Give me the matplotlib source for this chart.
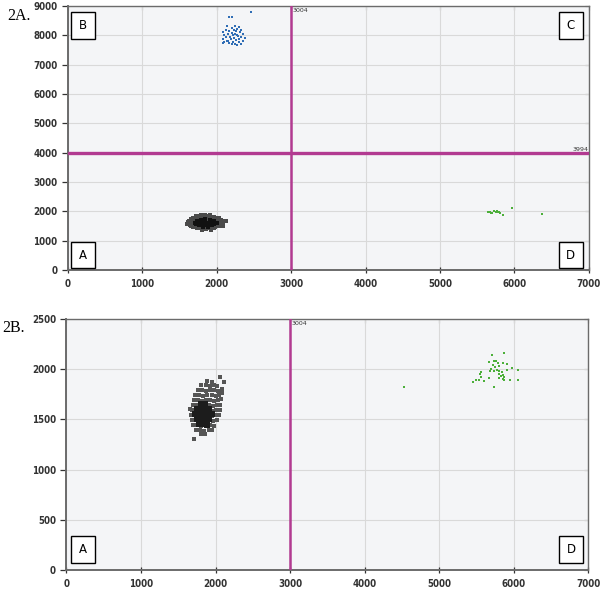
import numpy as np
import matplotlib
matplotlib.use("Agg")
import matplotlib.pyplot as plt
from matplotlib.patches import Rectangle

# ---- data ----
# Panel 2A
a_blue = [(2160, 8640), (2205, 8620), (2455, 8790),
          (2140, 8330), (2250, 8310), (2300, 8280), (2200, 8250), (2280, 8220),
          (2120, 8200), (2230, 8190), (2330, 8200), (2170, 8150), (2260, 8140),
          (2090, 8120), (2310, 8110), (2200, 8080), (2150, 8050), (2250, 8060),
          (2350, 8050), (2100, 8010), (2220, 8000), (2290, 7990), (2180, 7960),
          (2330, 7950), (2120, 7930), (2240, 7910), (2080, 7880), (2300, 7880),
          (2190, 7860), (2260, 7840), (2140, 7820), (2360, 7820), (2220, 7790),
          (2100, 7770), (2300, 7760), (2170, 7740), (2250, 7720), (2080, 7740),
          (2330, 7700), (2200, 7690), (2280, 7680), (2150, 7800), (2380, 7900),
          (2270, 8020)]
a_green = [(5640, 1970), (5670, 1990), (5700, 1960), (5720, 2000), (5745, 1980),
           (5770, 1990), (5790, 1970), (5810, 1950), (5850, 1880), (5960, 2100),
           (6370, 1900), (5680, 1950), (5760, 2010)]
a_black_outer = [(1790, 1880), (1850, 1890), (1910, 1875),
                 (1720, 1830), (1780, 1835), (1840, 1825), (1900, 1840), (1960, 1820),
                 (1680, 1780), (1740, 1785), (1800, 1775), (1860, 1790), (1920, 1780), (1980, 1770), (2030, 1785),
                 (1650, 1730), (1710, 1735), (1770, 1725), (1830, 1730), (1890, 1740), (1950, 1725), (2010, 1730), (2060, 1720),
                 (1630, 1680), (1690, 1685), (1750, 1675), (1810, 1680), (1870, 1690), (1930, 1675), (1990, 1685), (2050, 1680), (2100, 1670),
                 (1615, 1630), (1675, 1625), (1735, 1635), (1795, 1630), (1855, 1620), (1915, 1635), (1975, 1630), (2035, 1625), (2090, 1640),
                 (1620, 1580), (1680, 1585), (1740, 1575), (1800, 1580), (1860, 1590), (1920, 1575), (1980, 1580), (2040, 1585), (2085, 1575),
                 (1640, 1530), (1700, 1535), (1760, 1525), (1820, 1530), (1880, 1540), (1940, 1525), (2000, 1530), (2050, 1535),
                 (1680, 1480), (1740, 1485), (1800, 1475), (1860, 1480), (1920, 1490), (1980, 1475), (2030, 1485),
                 (1730, 1430), (1790, 1435), (1850, 1425), (1910, 1430), (1970, 1440),
                 (1800, 1380), (1860, 1385), (1920, 1375),
                 (1600, 1560), (2120, 1660), (1660, 1500), (2080, 1500)]
a_black_core = [(1790, 1720), (1850, 1725), (1910, 1715),
                (1730, 1670), (1790, 1675), (1850, 1665), (1910, 1670), (1970, 1675),
                (1710, 1620), (1770, 1625), (1830, 1615), (1890, 1620), (1950, 1625), (2000, 1615),
                (1720, 1570), (1780, 1575), (1840, 1565), (1900, 1570), (1960, 1575),
                (1770, 1520), (1830, 1525), (1890, 1515), (1940, 1520),
                (1820, 1470), (1880, 1475)]

# Panel 2B
b_green = [(4530, 1820),
           (5700, 2138), (5870, 2161), (5660, 2072), (5727, 2082), (5759, 2078),
           (5781, 2065), (5848, 2058), (5910, 2055), (5714, 2042), (5794, 2035),
           (5973, 2015), (6058, 1992), (5692, 2002), (5736, 1985), (5768, 1992),
           (5803, 1979), (5839, 1972), (5906, 1989), (5558, 1969), (5545, 1952),
           (5674, 1982), (5803, 1952), (5826, 1936), (5857, 1942), (5870, 1919),
           (5558, 1926), (5535, 1896), (5491, 1889), (5446, 1873), (5593, 1883),
           (5669, 1909), (5803, 1909), (5861, 1892), (5946, 1889), (6053, 1889),
           (5727, 1820), (5848, 1906), (5750, 2025)]
b_black_outer = [(1890, 1880), (1950, 1870),
                 (1810, 1840), (1865, 1845), (1920, 1835), (1975, 1840), (2020, 1830),
                 (1760, 1790), (1815, 1795), (1870, 1785), (1925, 1790), (1980, 1795), (2035, 1785),
                 (1725, 1740), (1780, 1745), (1835, 1735), (1890, 1740), (1945, 1745), (2000, 1735), (2050, 1740),
                 (1705, 1690), (1760, 1695), (1815, 1685), (1870, 1690), (1925, 1695), (1980, 1685), (2035, 1690), (2070, 1700),
                 (1690, 1640), (1745, 1645), (1800, 1635), (1855, 1640), (1910, 1645), (1965, 1635), (2020, 1640), (2065, 1645),
                 (1680, 1590), (1735, 1595), (1790, 1585), (1845, 1590), (1900, 1595), (1955, 1585), (2010, 1590), (2060, 1595),
                 (1675, 1540), (1730, 1545), (1785, 1535), (1840, 1540), (1895, 1545), (1950, 1535), (2005, 1540), (2050, 1545),
                 (1685, 1490), (1740, 1495), (1795, 1485), (1850, 1490), (1905, 1495), (1960, 1485), (2015, 1490),
                 (1700, 1440), (1755, 1445), (1810, 1435), (1865, 1440), (1920, 1445), (1975, 1435),
                 (1740, 1390), (1795, 1395), (1850, 1385), (1905, 1390), (1950, 1395),
                 (1800, 1350), (1860, 1355),
                 (2055, 1920), (2110, 1875), (1710, 1300), (2090, 1800), (2080, 1760), (1655, 1600)]
b_black_core = [(1800, 1650), (1860, 1655),
                (1750, 1600), (1805, 1605), (1860, 1595), (1915, 1600),
                (1730, 1550), (1785, 1555), (1840, 1545), (1895, 1550), (1950, 1555),
                (1745, 1500), (1800, 1505), (1855, 1495), (1910, 1500),
                (1780, 1450), (1835, 1455), (1890, 1445)]

x_ticks = [0, 1000, 2000, 3000, 4000, 5000, 6000, 7000]
a_y_ticks = [0, 1000, 2000, 3000, 4000, 5000, 6000, 7000, 8000, 9000]
b_y_ticks = [0, 500, 1000, 1500, 2000, 2500]
thr_x = 3004
thr_y = 3994

magenta = "#b23a91"
bg = "#f4f5f7"
grid_c = "#d9d9d9"


def xy(pts):
    arr = np.array(pts, dtype=float)
    return arr[:, 0], arr[:, 1]


def style_axes(ax, ymax, yticks):
    ax.set_facecolor(bg)
    ax.set_xlim(0, 7000)
    ax.set_ylim(0, ymax)
    ax.set_xticks(x_ticks)
    ax.set_yticks(yticks)
    ax.grid(True, color=grid_c, linewidth=0.8)
    ax.set_axisbelow(True)
    for s in ax.spines.values():
        s.set_color("#6b6b6b")
        s.set_linewidth(1.0)
    ax.spines["left"].set_linewidth(1.4)
    ax.spines["bottom"].set_linewidth(1.4)
    ax.tick_params(axis="both", labelsize=7, colors="#333333", width=0.9)
    ax.tick_params(axis="x", direction="inout", length=5, pad=4)
    ax.tick_params(axis="y", direction="out", length=4)
    for lab in ax.get_xticklabels() + ax.get_yticklabels():
        lab.set_fontweight("bold")
        lab.set_fontstretch("condensed")
    # short inward ticks on the top and right frame
    top = ax.secondary_xaxis("top")
    top.set_xticks(x_ticks)
    top.tick_params(direction="in", length=3, width=0.8, colors="#6b6b6b", labeltop=False)
    top.spines["top"].set_visible(False)
    right = ax.secondary_yaxis("right")
    right.set_yticks(yticks)
    right.tick_params(direction="in", length=3, width=0.8, colors="#6b6b6b", labelright=False)
    right.spines["right"].set_visible(False)


def quad_box(ax, x0, y0, w, h, text):
    ax.add_patch(Rectangle((x0, y0), w, h, transform=ax.transAxes,
                           facecolor="white", edgecolor="black", linewidth=1.0,
                           zorder=6))
    ax.text(x0 + w / 2, y0 + h / 2, text, transform=ax.transAxes,
            ha="center", va="center", fontsize=8.5, zorder=7)


fig = plt.figure(figsize=(6.0, 5.99), dpi=100)

# ---- 2A ----
ax1 = fig.add_axes([0.1128, 0.5492, 0.8688, 0.4407])
style_axes(ax1, 9000, a_y_ticks)
x, y = xy(a_black_outer)
ax1.scatter(x, y, s=6, marker="s", color="#4a4a4a", linewidths=0, zorder=3)
x, y = xy(a_black_core)
ax1.scatter(x, y, s=7, marker="s", color="#111111", linewidths=0, zorder=4)
x, y = xy(a_blue)
ax1.scatter(x, y, s=4.5, marker="s", color="#2f6db5", linewidths=0, zorder=3)
x, y = xy(a_green)
ax1.scatter(x, y, s=3.5, marker="s", color="#4caf3a", linewidths=0, zorder=3)
ax1.axvline(thr_x, color=magenta, linewidth=1.8, zorder=5)
ax1.axhline(thr_y, color=magenta, linewidth=2.4, zorder=5)
ax1.text(thr_x + 20, 8950, str(thr_x), fontsize=4.5, ha="left", va="top", color="#333333")
ax1.text(6990, thr_y + 40, str(thr_y), fontsize=4.5, ha="right", va="bottom", color="#333333")
quad_box(ax1, 0.0063, 0.875, 0.046, 0.102, "B")
quad_box(ax1, 0.9424, 0.875, 0.046, 0.102, "C")
quad_box(ax1, 0.0063, 0.0076, 0.046, 0.098, "A")
quad_box(ax1, 0.9424, 0.0076, 0.046, 0.098, "D")

# ---- 2B ----
ax2 = fig.add_axes([0.1108, 0.0484, 0.870, 0.419])
style_axes(ax2, 2500, b_y_ticks)
x, y = xy(b_black_outer)
ax2.scatter(x, y, s=10, marker="s", color="#555555", linewidths=0, zorder=3)
x, y = xy(b_black_core)
ax2.scatter(x, y, s=13, marker="s", color="#1c1c1c", linewidths=0, zorder=4)
x, y = xy(b_green)
ax2.scatter(x, y, s=3.5, marker="s", color="#4caf3a", linewidths=0, zorder=3)
ax2.axvline(thr_x, color=magenta, linewidth=1.8, zorder=5)
ax2.text(thr_x + 20, 2480, str(thr_x), fontsize=4.5, ha="left", va="top", color="#333333")
quad_box(ax2, 0.0086, 0.028, 0.046, 0.107, "A")
quad_box(ax2, 0.9435, 0.028, 0.046, 0.107, "D")

fig.text(0.012, 0.987, "2A.", fontsize=11.5, family="Liberation Serif", ha="left", va="top")
fig.text(0.004, 0.465, "2B.", fontsize=11.5, family="Liberation Serif", ha="left", va="top")

fig.savefig("out.png", dpi=100)
